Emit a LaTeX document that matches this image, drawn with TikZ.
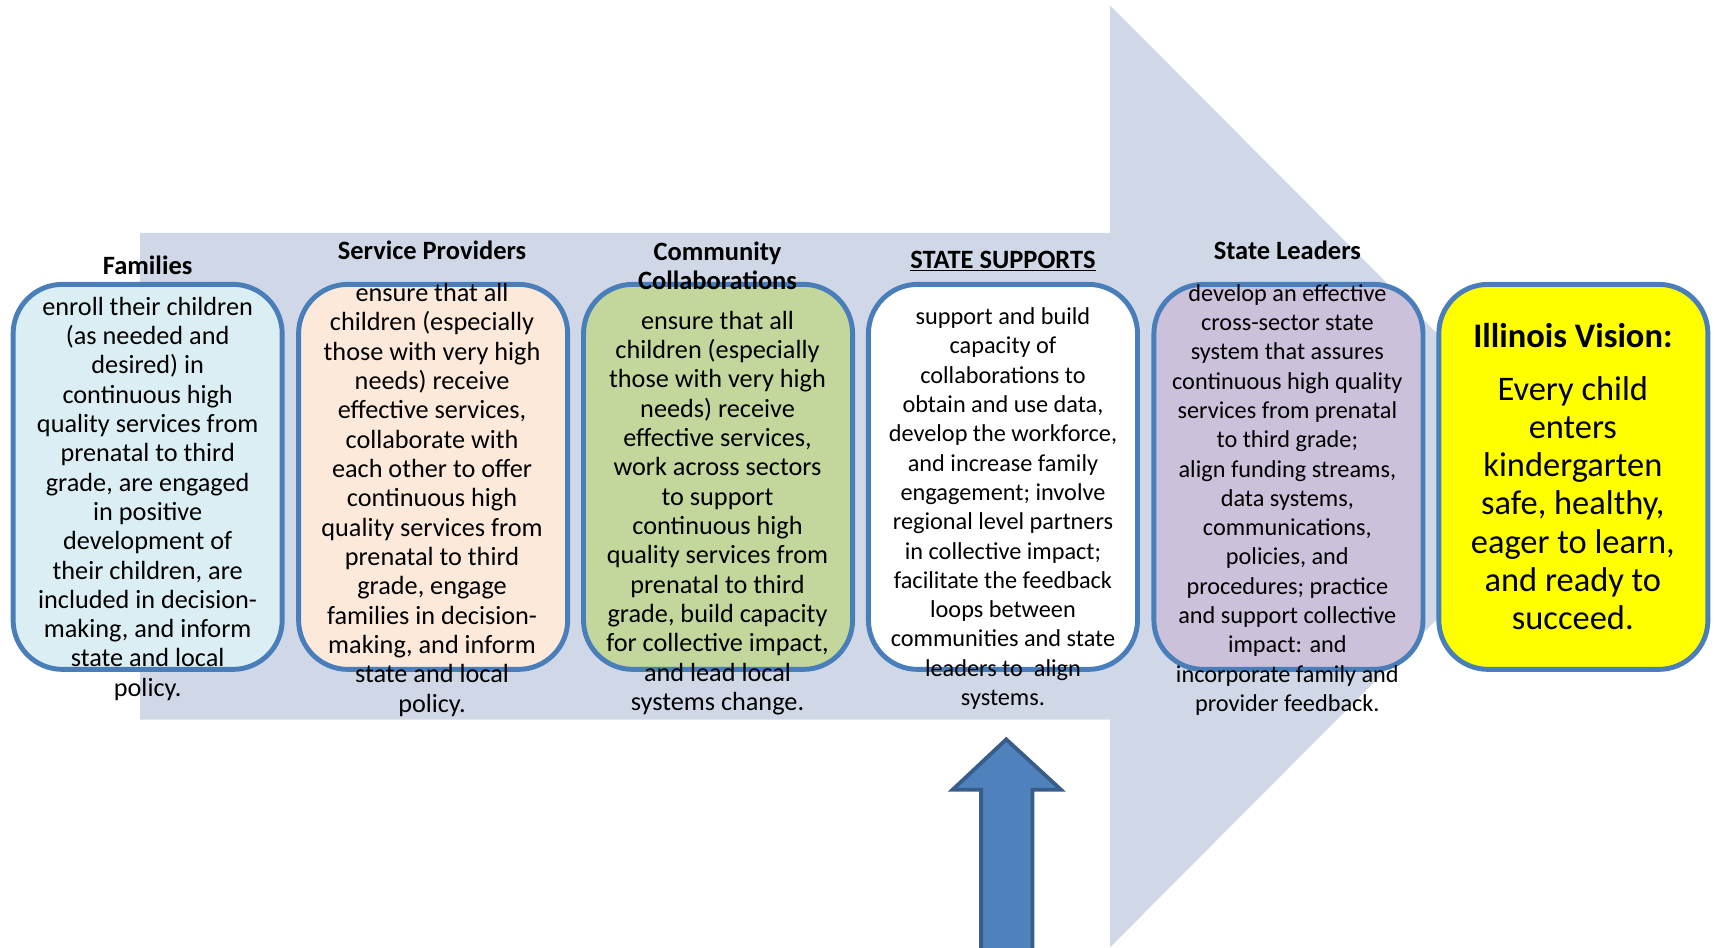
\documentclass[tikz,border=0pt]{standalone}
\usepackage{fontspec}
\setmainfont{Carlito}
\definecolor{arrowbg}{RGB}{208,216,232}
\definecolor{boxblue}{RGB}{74,126,187}
\definecolor{famfill}{RGB}{219,238,243}
\definecolor{spfill}{RGB}{253,233,217}
\definecolor{ccfill}{RGB}{195,214,155}
\definecolor{slfill}{RGB}{204,193,218}
\definecolor{visfill}{RGB}{255,255,0}
\definecolor{uparrow}{RGB}{79,129,189}
\definecolor{uparrowdark}{RGB}{56,93,138}
\begin{document}
\begin{tikzpicture}[x=1pt,y=-1pt,
  box/.style={draw=boxblue, line width=4.5pt, rounded corners=45pt, minimum width=246pt, minimum height=352pt, inner sep=0pt},
  body/.style={align=center, font=\fontsize{24}{26.8}\selectfont, inner sep=0pt},
  bodysm/.style={align=center, font=\fontsize{22.2}{26.8}\selectfont, inner sep=0pt},
  title/.style={align=center, font=\fontsize{24.2}{26.8}\selectfont\bfseries, inner sep=0pt}]
\useasboundingbox (0,0) rectangle (1568,866);
\clip (0,0) rectangle (1568,866);
% big background arrow
\fill[arrowbg] (128,213) -- (1015,213) -- (1015,5) -- (1444,435.5) -- (1015,866) -- (1015,658) -- (128,658) -- cycle;
% boxes
\node[box, fill=famfill] (fam) at (135,436) {};
\node[box, fill=spfill] (sp) at (396,436) {};
\node[box, fill=ccfill] (cc) at (656.5,436) {};
\node[box, fill=white] (ss) at (917,436) {};
\node[box, fill=slfill] (sl) at (1178,436) {};
\node[box, fill=visfill] (vis) at (1438.5,436) {};
% titles
\node[title] (famt) at (135,243) {Families};
\node[title] (spt) at (395,229) {Service Providers};
\node[title] (cct) at (656,243) {Community\\Collaborations};
\node[title] (sst) at (917,239) {\underline{STATE SUPPORTS}};
\node[title] (slt) at (1177,229) {State Leaders};
% bodies
\node[body] (famb) at (135,456) {enroll their children\\
(as needed and\\
desired) in\\
continuous high\\
quality services from\\
prenatal to third\\
grade, are engaged\\
in positive\\
development of\\
their children, are\\
included in decision-\\
making, and inform\\
state and local\\
policy.};
\node[body] (spb) at (395,457) {ensure that all\\
children (especially\\
those with very high\\
needs) receive\\
effective services,\\
collaborate with\\
each other to offer\\
continuous high\\
quality services from\\
prenatal to third\\
grade, engage\\
families in decision-\\
making, and inform\\
state and local\\
policy.};
\node[body] (ccb) at (656,469) {ensure that all\\
children (especially\\
those with very high\\
needs) receive\\
effective services,\\
work across sectors\\
to support\\
continuous high\\
quality services from\\
prenatal to third\\
grade, build capacity\\
for collective impact,\\
and lead local\\
systems change.};
\node[bodysm] (ssb) at (917,465) {support and build\\
capacity of\\
collaborations to\\
obtain and use data,\\
develop the workforce,\\
and increase family\\
engagement; involve\\
regional level partners\\
in collective impact;\\
facilitate the feedback\\
loops between\\
communities and state\\
leaders to\ \ align\\
systems.};
\node[bodysm] (slb) at (1177,457) {develop an effective\\
cross-sector state\\
system that assures\\
continuous high quality\\
services from prenatal\\
to third grade;\\
align funding streams,\\
data systems,\\
communications,\\
policies, and\\
procedures; practice\\
and support collective\\
impact: and\\
incorporate family and\\
provider feedback.};
\node[align=center, inner sep=0pt, font=\fontsize{31.5}{34}\selectfont\bfseries] (vist) at (1438,307) {Illinois Vision:};
\node[align=center, inner sep=0pt, font=\fontsize{31.5}{34.8}\selectfont] (visb) at (1438,460) {Every child\\
enters\\
kindergarten\\
safe, healthy,\\
eager to learn,\\
and ready to\\
succeed.};
% upward block arrow
\filldraw[fill=uparrow, draw=uparrowdark, line width=3.5pt, line join=miter]
  (920,676) -- (970,722) -- (944,722) -- (944,880) -- (897,880) -- (897,722) -- (871,722) -- cycle;
\end{tikzpicture}
\end{document}
